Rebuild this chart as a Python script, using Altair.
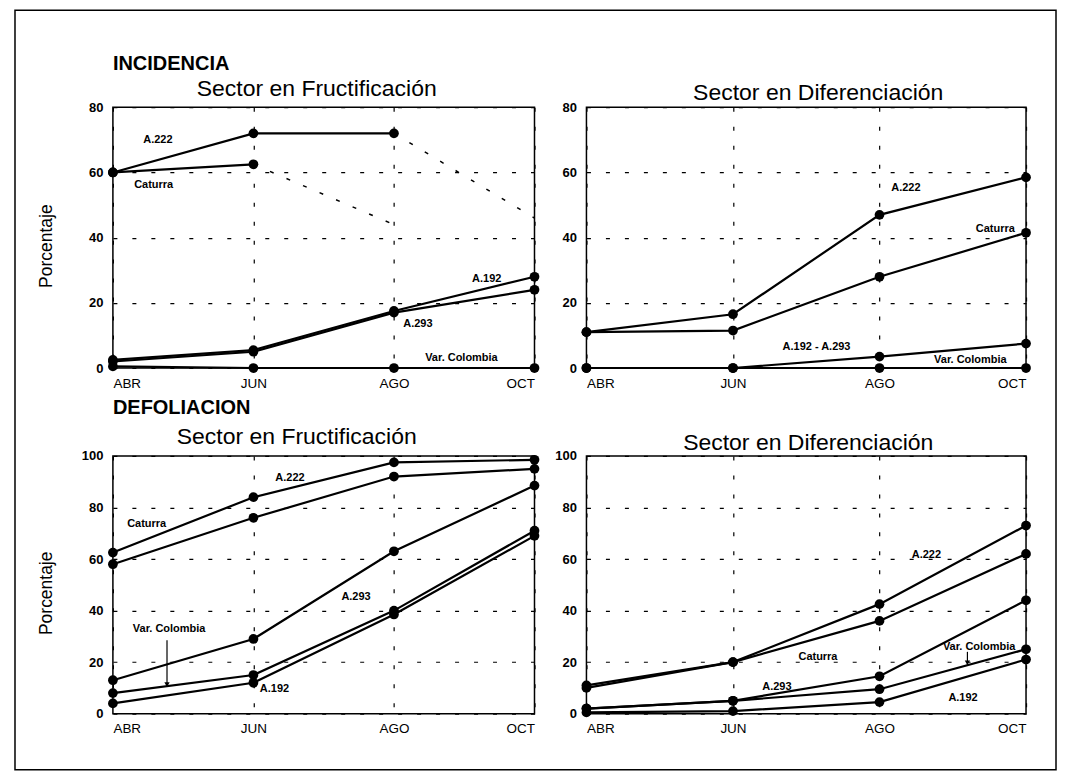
import json
import altair as alt
import pandas as pd

# ---------------- data ----------------
months = ["ABR", "JUN", "AGO", "OCT"]

# INCIDENCIA - Sector en Fructificación (0-80)
inc_fru_a222 = [60, 72, 72, None]
inc_fru_a222_dash = [None, None, 72, 46]
inc_fru_caturra = [60, 62.5, None, None]
inc_fru_caturra_dash = [None, 62.5, 44, None]
inc_fru_a192 = [2.5, 5.5, 17.5, 28]
inc_fru_a293 = [2, 5, 17, 24]
inc_fru_colombia = [0.5, 0, 0, 0]

# INCIDENCIA - Sector en Diferenciación (0-80)
inc_dif_a222 = [11, 16.5, 47, 58.5]
inc_dif_caturra = [11, 11.5, 28, 41.5]
inc_dif_a192_a293 = [0, 0, 3.5, 7.5]
inc_dif_colombia = [0, 0, 0, 0]

# DEFOLIACION - Sector en Fructificación (0-100)
def_fru_a222 = [62.5, 84, 97.5, 98.5]
def_fru_caturra = [58, 76, 92, 95]
def_fru_a293 = [13, 29, 63, 88.5]
def_fru_colombia = [8, 15, 40, 71]
def_fru_a192 = [4, 12, 38.5, 69]

# DEFOLIACION - Sector en Diferenciación (0-100)
def_dif_a222 = [11, 20, 42.5, 73]
def_dif_caturra = [10, 20, 36, 62]
def_dif_a293 = [2, 5, 14.5, 44]
def_dif_colombia = [2, 5, 9.5, 25]
def_dif_a192 = [0.5, 1, 4.5, 21]

# in-plot labels (text, month position, value)
inc_fru_labels = ["A.222", "Caturra", "A.192", "A.293", "Var. Colombia"]
inc_fru_label_x = [0.32, 0.29, 2.66, 2.17, 2.48]
inc_fru_label_y = [70, 56.3, 27.4, 13.5, 3]

inc_dif_labels = ["A.222", "Caturra", "A.192 - A.293", "Var. Colombia"]
inc_dif_label_x = [2.18, 2.79, 1.57, 2.62]
inc_dif_label_y = [55.2, 42.7, 6.5, 2.5]

def_fru_labels = ["A.222", "Caturra", "A.293", "Var. Colombia", "A.192"]
def_fru_label_x = [1.26, 0.24, 1.73, 0.40, 1.15]
def_fru_label_y = [91.4, 73.6, 45.2, 32.8, 9.4]
def_fru_arrow = [0.385, 28.5, 10.5]

def_dif_labels = ["A.222", "Caturra", "A.293", "Var. Colombia", "A.192"]
def_dif_label_x = [2.32, 1.58, 1.30, 2.68, 2.57]
def_dif_label_y = [61.7, 21.9, 10.4, 26, 6.2]
def_dif_arrow = [2.60, 24, 19]

FONT = "Liberation Sans"


def series_df(series_dict):
    rows = []
    for name, (vals, style) in series_dict.items():
        for i, v in enumerate(vals):
            if v is not None:
                rows.append({"serie": name, "m": i, "v": v, "style": style})
    return pd.DataFrame(rows)


def make_panel(series_dict, ymax, title, title_x, title_y, labels, lx, ly,
               arrow=None, ytitle=False, heading=None, heading_y=-37,
               frame=False, width=422, height=261):
    df = series_df(series_dict)
    solid = df[df["style"] == "solid"]
    dashed = df[df["style"] == "dash"]

    x_enc = alt.X(
        "m:Q",
        scale=alt.Scale(domain=[0, 3], nice=False, zero=False),
        axis=alt.Axis(
            values=[0, 1, 2, 3],
            labelExpr=json.dumps(months) + "[datum.value]",
            title=None, ticks=False, domain=False,
            grid=True, gridDash=[4, 15], gridColor="black", gridWidth=1.2,
            labelFontSize=13.5, labelFont=FONT, labelColor="black",
            labelPadding=8,
        ),
    )
    yaxis_kwargs = dict(
        values=list(range(0, ymax + 1, 20)),
        ticks=False, domain=False,
        grid=True, gridDash=[4, 15], gridColor="black", gridWidth=1.2,
        labelFontSize=13, labelFontWeight="bold", labelFont=FONT,
        labelColor="black", labelPadding=10,
    )
    if ytitle:
        yaxis_kwargs.update(
            title="Porcentaje", titleFont=FONT, titleFontSize=17.5,
            titleFontWeight="normal", titleColor="black",
            titleX=-57, titleY=height / 2 + 8,
        )
    else:
        yaxis_kwargs["title"] = None
    y_enc = alt.Y("v:Q", scale=alt.Scale(domain=[0, ymax], nice=False),
                  axis=alt.Axis(**yaxis_kwargs))

    layers = []
    layers.append(
        alt.Chart(solid).mark_line(color="black", strokeWidth=2.2).encode(
            x=x_enc, y=y_enc, detail="serie:N")
    )
    if len(dashed):
        layers.append(
            alt.Chart(dashed).mark_line(color="black", strokeWidth=1.5,
                                        strokeDash=[4, 14]).encode(
                x=x_enc, y=y_enc, detail="serie:N")
        )
    layers.append(
        alt.Chart(solid).mark_point(filled=True, color="black", size=95,
                                    opacity=1).encode(x=x_enc, y=y_enc)
    )
    lab_df = pd.DataFrame({"label": labels, "m": lx, "v": ly})
    layers.append(
        alt.Chart(lab_df).mark_text(font=FONT, fontWeight="bold", fontSize=11,
                                    color="black").encode(
            x=x_enc, y=y_enc, text="label:N")
    )
    if arrow is not None:
        arr_df = pd.DataFrame({"m": [arrow[0]], "v": [arrow[1]], "v2": [arrow[2]]})
        layers.append(
            alt.Chart(arr_df).mark_rule(color="black", strokeWidth=1.2).encode(
                x=x_enc, y=y_enc, y2="v2:Q")
        )
        layers.append(
            alt.Chart(arr_df).mark_point(shape="triangle-down", filled=True,
                                         color="black", size=28, opacity=1,
                                         yOffset=-2).encode(
                x=x_enc, y=alt.Y("v2:Q"))
        )
    # panel title
    layers.append(
        alt.Chart(pd.DataFrame({"t": [title]})).mark_text(
            font=FONT, fontSize=23, color="black",
            align="center", baseline="alphabetic").encode(
            x=alt.value(title_x), y=alt.value(title_y), text="t:N")
    )
    if heading is not None:
        layers.append(
            alt.Chart(pd.DataFrame({"t": [heading]})).mark_text(
                font=FONT, fontWeight="bold", fontSize=20, color="black",
                align="left", baseline="alphabetic").encode(
                x=alt.value(0), y=alt.value(heading_y), text="t:N")
        )
    if frame:
        layers.append(
            alt.Chart(pd.DataFrame({"f": [0]})).mark_rect(
                fillOpacity=0, stroke="black", strokeWidth=1.5).encode(
                x=alt.value(-98), x2=alt.value(944),
                y=alt.value(-97), y2=alt.value(663))
        )
    return alt.layer(*layers).properties(width=width, height=height)


p1 = make_panel(
    {"A.222": (inc_fru_a222, "solid"), "A.222p": (inc_fru_a222_dash, "dash"),
     "Caturra": (inc_fru_caturra, "solid"), "Caturrap": (inc_fru_caturra_dash, "dash"),
     "A.192": (inc_fru_a192, "solid"), "A.293": (inc_fru_a293, "solid"),
     "Var. Colombia": (inc_fru_colombia, "solid")},
    80, "Sector en Fructificación", 204, -11,
    inc_fru_labels, inc_fru_label_x, inc_fru_label_y,
    ytitle=True, heading="INCIDENCIA", heading_y=-37, frame=True,
    width=422, height=261)

p2 = make_panel(
    {"A.222": (inc_dif_a222, "solid"), "Caturra": (inc_dif_caturra, "solid"),
     "A.192 - A.293": (inc_dif_a192_a293, "solid"),
     "Var. Colombia": (inc_dif_colombia, "solid")},
    80, "Sector en Diferenciación", 232, -7,
    inc_dif_labels, inc_dif_label_x, inc_dif_label_y,
    width=440, height=261)

p3 = make_panel(
    {"A.222": (def_fru_a222, "solid"), "Caturra": (def_fru_caturra, "solid"),
     "A.293": (def_fru_a293, "solid"), "Var. Colombia": (def_fru_colombia, "solid"),
     "A.192": (def_fru_a192, "solid")},
    100, "Sector en Fructificación", 184, -12,
    def_fru_labels, def_fru_label_x, def_fru_label_y,
    arrow=def_fru_arrow, ytitle=True, heading="DEFOLIACION", heading_y=-42,
    width=422, height=258)

p4 = make_panel(
    {"A.222": (def_dif_a222, "solid"), "Caturra": (def_dif_caturra, "solid"),
     "A.293": (def_dif_a293, "solid"), "Var. Colombia": (def_dif_colombia, "solid"),
     "A.192": (def_dif_a192, "solid")},
    100, "Sector en Diferenciación", 222, -6,
    def_dif_labels, def_dif_label_x, def_dif_label_y,
    arrow=def_dif_arrow, width=440, height=258)

chart = alt.concat(p1, p2, p3, p4, columns=2,
                   spacing={"row": 88, "column": 52}).properties(
    bounds="flush",
    padding={"left": 5, "top": 0, "right": 0, "bottom": 0},
    background="white",
).configure_view(stroke="black", strokeWidth=1.5)

chart.save("out.html", embed_options={"renderer": "svg", "actions": False})
